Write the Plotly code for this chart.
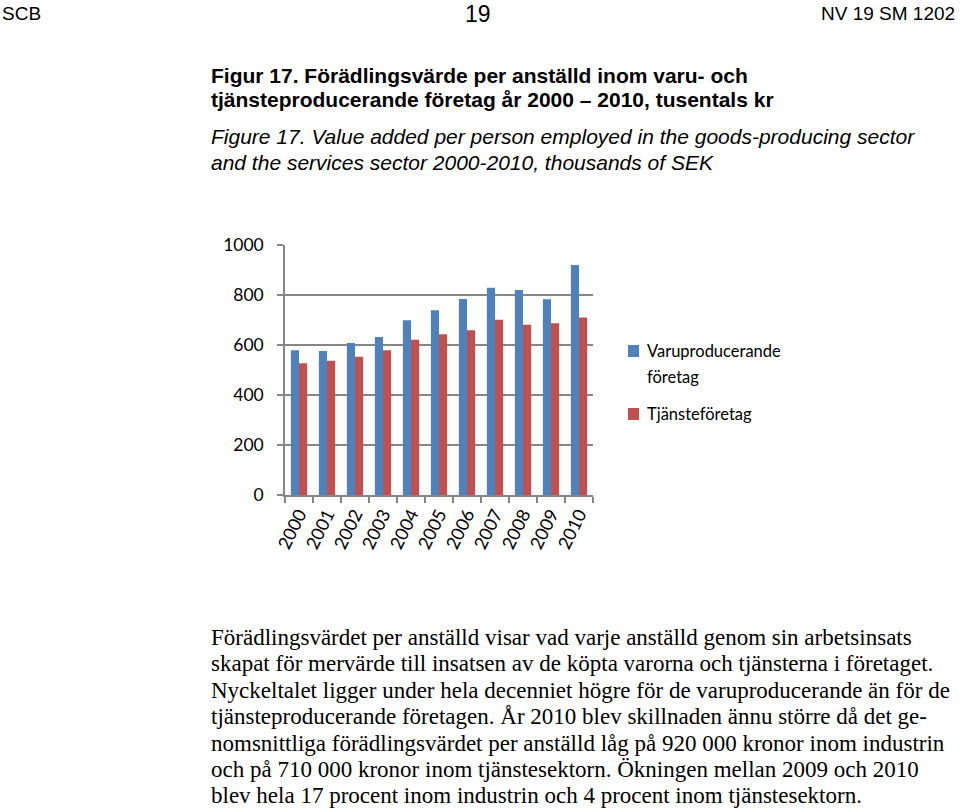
import plotly.graph_objects as go

years = ["2000", "2001", "2002", "2003", "2004", "2005", "2006", "2007", "2008", "2009", "2010"]
varu = [579, 576, 608, 632, 699, 739, 784, 829, 820, 783, 920]
tjanst = [527, 537, 553, 579, 621, 643, 659, 701, 681, 687, 710]
y_ticks = [0, 200, 400, 600, 800, 1000]
series_names = ["Varuproducerande<br>företag", "Tjänsteföretag"]
series_colors = ["#4F81BD", "#C0504D"]

W, H = 960, 810
L, R, T, B = 285, 593, 245, 495

def px(x):
    return (x - L) / (R - L)

def py(y):
    return (B - y) / (B - T)

fig = go.Figure()
fig.add_trace(go.Bar(x=years, y=varu, name=series_names[0],
                     marker=dict(color=series_colors[0], line=dict(width=0))))
fig.add_trace(go.Bar(x=years, y=tjanst, name=series_names[1],
                     marker=dict(color=series_colors[1], line=dict(width=0))))

ann = []
shapes = []
def text(x, y, s, size, family="Liberation Sans", anchor="left", color="#000", weight=None, italic=False):
    if weight:
        s = "<b>" + s + "</b>"
    if italic:
        s = "<i>" + s + "</i>"
    ann.append(dict(x=px(x), y=py(y), xref="paper", yref="paper", text=s, showarrow=False,
                    xanchor=anchor, yanchor="middle", font=dict(size=size, family=family, color=color)))

text(0, 13, "SCB", 19)
text(478, 14, "19", 23, anchor="center")
text(957, 13, "NV 19 SM 1202", 19, anchor="right")

text(209, 75, "Figur 17. Förädlingsvärde per anställd inom varu- och", 21, weight=True)
text(209, 100, "tjänsteproducerande företag år 2000 – 2010, tusentals kr", 21, weight=True)
text(209, 136, "Figure 17. Value added per person employed in the goods-producing sector", 21, italic=True)
text(209, 162, "and the services sector 2000-2010, thousands of SEK", 21, italic=True)

body = [
    "Förädlingsvärdet per anställd visar vad varje anställd genom sin arbetsinsats",
    "skapat för mervärde till insatsen av de köpta varorna och tjänsterna i företaget.",
    "Nyckeltalet ligger under hela decenniet högre för de varuproducerande än för de",
    "tjänsteproducerande företagen. År 2010 blev skillnaden ännu större då det ge-",
    "nomsnittliga förädlingsvärdet per anställd låg på 920 000 kronor inom industrin",
    "och på 710 000 kronor inom tjänstesektorn. Ökningen mellan 2009 och 2010",
    "blev hela 17 procent inom industrin och 4 procent inom tjänstesektorn.",
]
for i, line in enumerate(body):
    text(209, 637 + i * 26.5, line, 23, family="Liberation Serif")

# manual legend
leg_rows = [(351, [351, 377]), (414, [414])]
for (sq_y, text_ys), name, color in zip(leg_rows, series_names, series_colors):
    shapes.append(dict(type="rect", xref="paper", yref="paper",
                       x0=px(628), x1=px(639), y0=py(sq_y + 6), y1=py(sq_y - 6),
                       fillcolor=color, line=dict(width=0)))
    for part, ty in zip(name.split("<br>"), text_ys):
        text(645, ty, part, 16.5, family="Lato")

fig.update_layout(
    width=W, height=H,
    margin=dict(l=L, r=W - R, t=T, b=H - B, autoexpand=False),
    paper_bgcolor="white", plot_bgcolor="white",
    barmode="group", bargap=0.42, bargroupgap=0,
    showlegend=False,
    annotations=ann, shapes=shapes,
    xaxis=dict(type="category", showgrid=False, showline=True, linecolor="#868686", linewidth=1.5,
               ticks="outside", tickson="boundaries", ticklen=6, tickcolor="#868686", tickwidth=1.5,
               tickangle=-64, tickfont=dict(family="Lato", size=18, color="#000")),
    yaxis=dict(range=[0, 1000], tickvals=y_ticks, showgrid=True, gridcolor="#868686", gridwidth=1.5,
               showline=True, linecolor="#868686", linewidth=1.5, ticks="outside", ticklen=6,
               tickwidth=1.5, tickcolor="#868686", zeroline=False, ticklabelstandoff=10,
               tickfont=dict(family="Lato", size=17.5, color="#000")),
)

fig.write_html("out.html")
